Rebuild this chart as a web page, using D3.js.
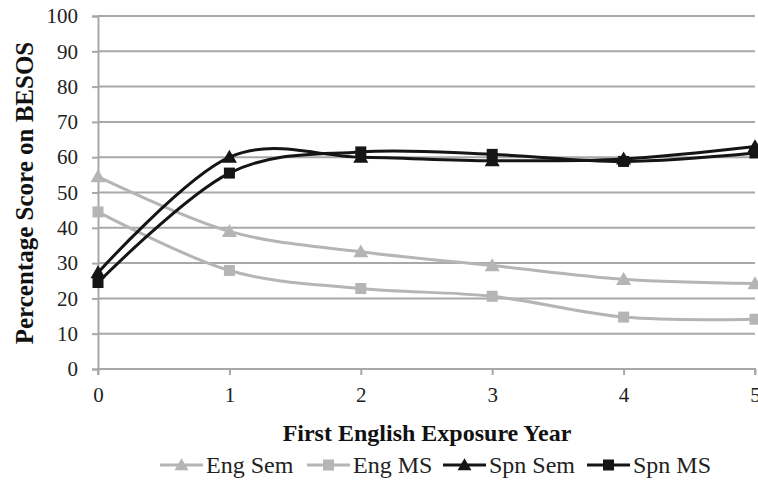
<!DOCTYPE html>
<html>
<head>
<meta charset="utf-8">
<script src="https://cdn.jsdelivr.net/npm/d3@7"></script>
</head>
<body style="margin:0">
<svg id="chart" width="758" height="485" style="font-family: 'Liberation Serif'; background:#fff"></svg>
<script>
// ---- data ----
const years = [0, 1, 2, 3, 4, 5];
const engSem = [54.5, 39, 33.2, 29.3, 25.4, 24.2];
const engMS  = [44.5, 27.9, 22.8, 20.6, 14.7, 14.1];
const spnSem = [27.3, 60, 60, 59, 59.5, 63];
const spnMS  = [24.5, 55.5, 61.5, 60.8, 58.8, 61.2];
const seriesNames = ["Eng Sem", "Eng MS", "Spn Sem", "Spn MS"];
const yTicks = [0, 10, 20, 30, 40, 50, 60, 70, 80, 90, 100];
const xTicks = [0, 1, 2, 3, 4, 5];
const xTitle = "First English Exposure Year";
const yTitle = "Percentage Score on BESOS";

const GRAY = "#b5b5b5", BLACK = "#151515", GRID = "#a8a8a8";
const FF = '"Liberation Serif"';
const series = [
  { name: seriesNames[0], values: engSem, color: GRAY,  shape: "tri" },
  { name: seriesNames[1], values: engMS,  color: GRAY,  shape: "sq" },
  { name: seriesNames[2], values: spnSem, color: BLACK, shape: "tri" },
  { name: seriesNames[3], values: spnMS,  color: BLACK, shape: "sq" }
];

const svg = d3.select("#chart");
const L = 98, R = 755, T = 16, B = 369;
const x = d3.scaleLinear().domain([0, 5]).range([L, R]);
const y = d3.scaleLinear().domain([0, 100]).range([B, T]);

// horizontal gridlines
svg.append("g").selectAll("line").data(yTicks.filter(d => d > 0)).join("line")
  .attr("x1", L).attr("x2", R).attr("y1", d => y(d)).attr("y2", d => y(d))
  .attr("stroke", GRID).attr("stroke-width", 2);

// y axis
const gy = svg.append("g").attr("transform", `translate(${L},0)`)
  .call(d3.axisLeft(y).tickValues(yTicks).tickSize(6).tickPadding(14).tickFormat(d3.format("d")));
gy.attr("font-family", null).attr("font-size", null);
gy.select(".domain").attr("stroke", GRID).attr("stroke-width", 2);
gy.selectAll(".tick line").attr("stroke", GRID).attr("stroke-width", 2);
gy.selectAll(".tick text").style("font-family", FF).style("font-size", "21px").attr("fill", "#222");

// x axis
const gx = svg.append("g").attr("transform", `translate(0,${B})`)
  .call(d3.axisBottom(x).tickValues(xTicks).tickSize(6).tickPadding(12).tickFormat(d3.format("d")));
gx.attr("font-family", null).attr("font-size", null);
gx.select(".domain").attr("stroke", GRID).attr("stroke-width", 2).attr("d", `M${L},6V0H${R}V6`);
gx.selectAll(".tick line").attr("stroke", GRID).attr("stroke-width", 2);
gx.selectAll(".tick text").style("font-family", FF).style("font-size", "21px").attr("fill", "#222");

// lines
const line = d3.line().x((d, i) => x(years[i])).y(d => y(d)).curve(d3.curveCatmullRom.alpha(0));
function marker(g, shape, cx, cy, color, s) {
  if (shape === "sq") {
    g.append("rect").attr("x", cx - s / 2).attr("y", cy - s / 2).attr("width", s).attr("height", s).attr("fill", color);
  } else {
    const h = s * 0.95;
    g.append("path").attr("d", `M${cx},${cy - h * 0.6}L${cx + s * 0.58},${cy + h * 0.45}L${cx - s * 0.58},${cy + h * 0.45}Z`).attr("fill", color);
  }
}
series.forEach(s => {
  svg.append("path").attr("d", line(s.values)).attr("fill", "none")
    .attr("stroke", s.color).attr("stroke-width", 3);
});
series.forEach(s => {
  const g = svg.append("g");
  s.values.forEach((v, i) => marker(g, s.shape, x(years[i]), y(v), s.color, s.shape === "sq" ? 11 : 13));
});

// titles
svg.append("text").attr("x", 427).attr("y", 441).attr("text-anchor", "middle")
  .style("font-family", FF).style("font-weight", "bold").style("font-size", "24px").attr("fill", "#111").text(xTitle);
svg.append("text").attr("transform", "translate(33,193) rotate(-90)").attr("text-anchor", "middle")
  .style("font-family", FF).style("font-weight", "bold").style("font-size", "25px").attr("fill", "#111").text(yTitle);

// legend
const legendX = [160, 307, 443, 587];
const lg = svg.append("g");
series.forEach((s, i) => {
  const x0 = legendX[i], cy = 465;
  lg.append("line").attr("x1", x0).attr("x2", x0 + 43).attr("y1", cy).attr("y2", cy)
    .attr("stroke", s.color).attr("stroke-width", 3);
  marker(lg, s.shape, x0 + 21.5, cy, s.color, s.shape === "sq" ? 11 : 12);
  lg.append("text").attr("x", x0 + 46).attr("y", cy + 8)
    .style("font-family", FF).style("font-size", "24px").attr("fill", "#222").text(s.name);
});
</script>
</body>
</html>
